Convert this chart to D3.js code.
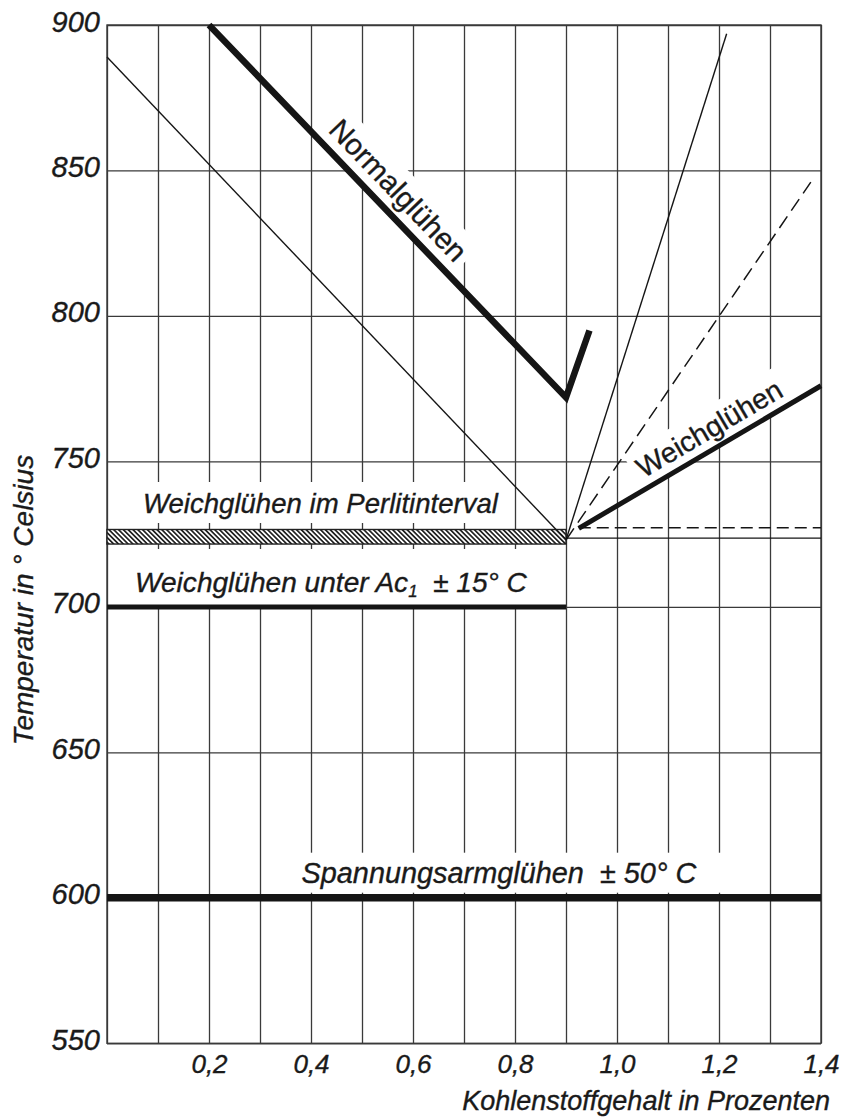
<!DOCTYPE html>
<html><head><meta charset="utf-8">
<script src="https://cdn.jsdelivr.net/npm/d3@7/dist/d3.min.js"></script>
<style>
html,body{margin:0;padding:0;background:#fff}
svg{display:block}
text{font-family:"Liberation Sans",Arial,Helvetica,sans-serif;fill:#1a1a1a;stroke:#1a1a1a;stroke-width:0.35px;white-space:pre}
</style></head><body>
<svg id="c" width="843" height="1118"></svg>
<script>
// ---------- data ----------
const xGrid = [0,0.1,0.2,0.3,0.4,0.5,0.6,0.7,0.8,0.9,1.0,1.1,1.2,1.3,1.4];
const xTickValues = [0.2,0.4,0.6,0.8,1.0,1.2,1.4];
const xTickLabels = ["0,2","0,4","0,6","0,8","1,0","1,2","1,4"];
const yTicks = [550,600,650,700,750,800,850,900];

// lines: [Kohlenstoff %, Temperatur °C]
const thinLeft   = [[0,889],[0.9,723]];
const normalGl   = [[0.2,900],[0.9,772],[0.946,795]];
const thinRise   = [[0.9,723],[1.215,897]];
const dashRise   = [[0.9,723],[1.38,846]];
const weichGl    = [[0.925,727],[1.4,776]];
const dashFlat   = [[0.925,727.2],[1.4,727.2]];
const thinFlat   = [[0.9,723.6],[1.4,723.6]];
const perlitX    = [0,0.9];
const perlitT    = [721.6,726.6];
const ac1Line    = [[0,700],[0.9,700]];
const stressLine = [[0,600],[1.4,600]];

// ---------- setup ----------
const svg = d3.select("#c");
const x = d3.scaleLinear().domain([0,1.4]).range([107,821]);
const y = d3.scaleLinear().domain([550,900]).range([1043.3,25]);
const gridCol = "#3a3a3a";

const defs = svg.append("defs");
const pat = defs.append("pattern").attr("id","hatch")
  .attr("patternUnits","userSpaceOnUse").attr("width",3.4).attr("height",3.4)
  .attr("patternTransform","rotate(-45)");
pat.append("rect").attr("width",3.4).attr("height",3.4).attr("fill","#fff");
pat.append("line").attr("x1",1.7).attr("y1",0).attr("x2",1.7).attr("y2",3.4)
  .attr("stroke","#222").attr("stroke-width",1.7);

const gGrid = svg.append("g");
const gBg = svg.append("g");
const gMarks = svg.append("g");
const gText = svg.append("g");

// ---------- grid ----------
gGrid.append("g").attr("transform",`translate(0,${y(550)})`)
  .call(d3.axisBottom(x).tickValues(xGrid).tickSize(-(y(550)-y(900))).tickFormat(""))
  .call(g=>g.select(".domain").remove())
  .selectAll("line").attr("stroke",gridCol).attr("stroke-width",1.3);
gGrid.append("g").attr("transform",`translate(${x(0)},0)`)
  .call(d3.axisLeft(y).tickValues(yTicks).tickSize(-(x(1.4)-x(0))).tickFormat(""))
  .call(g=>g.select(".domain").remove())
  .selectAll("line").attr("stroke",gridCol).attr("stroke-width",1.3);

// ---------- axis labels ----------
const xa = gText.append("g").attr("transform",`translate(0,${y(550)})`)
  .call(d3.axisBottom(x).tickValues(xTickValues).tickSize(0)
    .tickFormat((d,i)=>xTickLabels[i]));
xa.select(".domain").remove();
xa.selectAll("text").attr("y",30).attr("dy",null)
  .attr("font-size",26).attr("font-style","italic").attr("fill","#1a1a1a")
  .attr("font-family",null);

const ya = gText.append("g").attr("transform",`translate(${x(0)},0)`)
  .call(d3.axisLeft(y).tickValues(yTicks).tickSize(0));
ya.select(".domain").remove();
ya.selectAll("text").attr("x",-7).attr("dy",null).attr("y",6)
  .attr("font-size",29).attr("font-style","italic").attr("fill","#1a1a1a")
  .attr("font-family",null);

gText.append("text").attr("x",830).attr("y",1110).attr("text-anchor","end")
  .attr("font-size",27).attr("font-style","italic")
  .text("Kohlenstoffgehalt in Prozenten");
gText.append("text").attr("transform","translate(33,600) rotate(-90)")
  .attr("text-anchor","middle").attr("font-size",28).attr("font-style","italic")
  .text("Temperatur in ° Celsius");

// ---------- marks ----------
const line = d3.line().x(d=>x(d[0])).y(d=>y(d[1]));
function path(data, w, dash){
  const p = gMarks.append("path").attr("d",line(data)).attr("fill","none")
    .attr("stroke","#151515").attr("stroke-width",w)
    .attr("stroke-linejoin","miter").attr("stroke-miterlimit",10);
  if(dash) p.attr("stroke-dasharray",dash);
  return p;
}
gMarks.append("rect").attr("x",x(perlitX[0])).attr("y",y(perlitT[1]))
  .attr("width",x(perlitX[1])-x(perlitX[0])).attr("height",y(perlitT[0])-y(perlitT[1]))
  .attr("fill","url(#hatch)").attr("stroke","#222").attr("stroke-width",1.4);
path(thinLeft,1.4);
path(thinRise,1.4);
path(dashRise,1.5,"14,7");
path(thinFlat,1.3);
path(dashFlat,1.5,"12,6");
path(normalGl,6.5);
path(weichGl,5);
path(ac1Line,5);
path(stressLine,7.5);

// frame
gGrid.append("rect").attr("x",x(0)).attr("y",y(900))
  .attr("width",x(1.4)-x(0)).attr("height",y(550)-y(900))
  .attr("fill","none").attr("stroke",gridCol).attr("stroke-width",1.4);

// ---------- labels ----------
function fitWidth(t, target, size){
  const w = t.node().getComputedTextLength();
  if(target) t.attr("font-size", size*target/w);
}
function addBg(g, t, pad, transform){
  const b = t.node().getBBox();
  gBg.append("rect").attr("transform",transform)
    .attr("x",b.x-pad[0]).attr("y",b.y-pad[1])
    .attr("width",b.width+pad[0]+pad[2]).attr("height",b.height+pad[1]+pad[3])
    .attr("fill","#fff");
}
function hLabel(px, py, size, build, target, pad){
  const tr = `translate(${px},${py})`;
  const g = gText.append("g").attr("transform",tr);
  const t = g.append("text").attr("font-size",size).attr("font-style","italic");
  build(t);
  fitWidth(t, target, size);
  addBg(g, t, pad, tr);
}
hLabel(143, 513, 26, t=>t.text("Weichglühen im Perlitinterval"), 355, [8,6,7,4]);
hLabel(135, 592, 26, t=>{
  t.append("tspan").text("Weichglühen unter Ac");
  t.append("tspan").attr("font-size","0.6em").attr("dy",5).text("1");
  t.append("tspan").attr("dy",-5).text("  ± 15° C");
}, 392, [10,18,13,4]);
hLabel(301.5, 882.7, 28, t=>t.text("Spannungsarmglühen  ± 50° C"), 395, [12,4,33,4]);

function rLabel(pts, frac, off, size, str, target, pad){
  const a=[x(pts[0][0]),y(pts[0][1])], b=[x(pts[1][0]),y(pts[1][1])];
  const dx=b[0]-a[0], dy=b[1]-a[1], L=Math.hypot(dx,dy);
  const nx=dy/L, ny=-dx/L;
  const px=a[0]+frac*dx+off*nx, py=a[1]+frac*dy+off*ny;
  const ang=Math.atan2(dy,dx)*180/Math.PI;
  const tr=`translate(${px},${py}) rotate(${ang})`;
  const g=gText.append("g").attr("transform",tr);
  const t=g.append("text").attr("text-anchor","middle").attr("font-size",size).text(str);
  fitWidth(t,target,size);
  addBg(g,t,pad,tr);
}
rLabel([normalGl[0],normalGl[1]], 0.485, 12, 28, "Normalglühen", 184, [6,4,6,4]);
rLabel(weichGl, 0.58, 10, 28, "Weichglühen", 164, [6,4,6,4]);
</script>
</body></html>
